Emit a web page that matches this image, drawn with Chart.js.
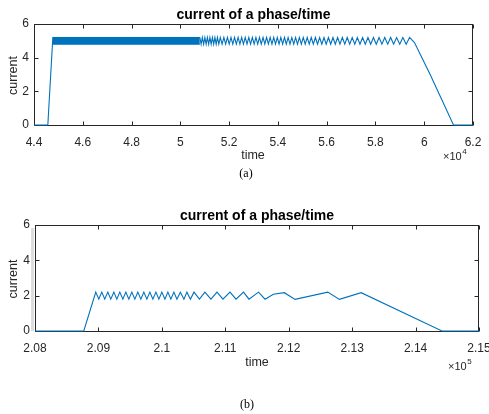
<!DOCTYPE html>
<html>
<head>
<meta charset="utf-8">
<script src="https://cdn.jsdelivr.net/npm/chart.js@4.4.0/dist/chart.umd.min.js"></script>
<style>
  html, body { margin: 0; padding: 0; background: #fff; }
  #wrap { position: relative; width: 489px; height: 414px; overflow: hidden; background: #fff; }
  #wrap canvas { position: absolute; left: 0; }
  #plotA { top: 0; }
  #plotB { top: 200px; }
</style>
</head>
<body>
<div id="wrap">
  <canvas id="plotA" width="489" height="200"></canvas>
  <canvas id="plotB" width="489" height="214"></canvas>
</div>
<script>
const yTicks = [0, 2, 4, 6];
const yLabels = ['0', '2', '4', '6'];

// (a) time axis, x10^4
const aXTicks = [44000, 46000, 48000, 50000, 52000, 54000, 56000, 58000, 60000, 62000];
const aXLabels = ['4.4', '4.6', '4.8', '5', '5.2', '5.4', '5.6', '5.8', '6', '6.2'];
const aStartT = [44000, 44567, 44772];
const aStartY = [0, 0, 5.2];
// ripple too dense to resolve here, shows as a solid band
const aBandT = [44772, 50800];
const aBandHigh = 5.2;
const aBandLow = 4.8;
const aPeak = 5.2;
const aTrough = 4.8;
const aPeakT = [50903, 51006, 51109, 51212, 51315, 51418, 51521, 51639, 51785, 51931,
  52077, 52223, 52369, 52515, 52661, 52807, 52953, 53099, 53245, 53391, 53537, 53683,
  53829, 53975, 54121, 54270, 54420, 54572, 54726, 54882, 55040, 55202, 55368, 55538,
  55712, 55890, 56072, 56258, 56448, 56643, 56843, 57048, 57258, 57473, 57693, 57918,
  58148, 58383, 58623, 58868, 59125, 59400];
const aTroughT = [50852, 50955, 51058, 51161, 51264, 51367, 51470, 51577, 51712, 51858,
  52004, 52150, 52296, 52442, 52588, 52734, 52880, 53026, 53172, 53318, 53464, 53610,
  53756, 53902, 54048, 54195, 54345, 54496, 54649, 54804, 54961, 55121, 55285, 55453,
  55625, 55801, 55981, 56165, 56353, 56545, 56743, 56945, 57153, 57365, 57583, 57805,
  58033, 58265, 58503, 58745, 58996, 59262];
const aEndT = [59600, 60243, 61200, 62000];
const aEndY = [4.9, 3.0, 0, 0];

// (b) time axis, x10^5
const bXTicks = [208000, 209000, 210000, 211000, 212000, 213000, 214000, 215000];
const bXLabels = ['2.08', '2.09', '2.1', '2.11', '2.12', '2.13', '2.14', '2.15'];
const bT = [208000, 208769, 208958, 209006, 209053, 209100, 209148, 209195, 209243, 209290,
  209337, 209385, 209432, 209479, 209527, 209574, 209621, 209669, 209716, 209764, 209811,
  209858, 209906, 209953, 210000, 210048, 210095, 210142, 210190, 210237, 210292, 210348,
  210395, 210450, 210506, 210592, 210679, 210774, 210869, 210963, 211074, 211169, 211287,
  211374, 211524, 211627, 211758, 211931, 212100, 212616, 212800, 213142, 214416, 215000];
const bY = [0, 0, 2.2, 1.8, 2.2, 1.8, 2.2, 1.8, 2.2, 1.8,
  2.2, 1.8, 2.2, 1.8, 2.2, 1.8, 2.2, 1.8, 2.2, 1.8, 2.2,
  1.8, 2.2, 1.8, 2.2, 1.8, 2.2, 1.8, 2.2, 1.8, 2.2, 1.8,
  2.2, 1.8, 2.2, 1.8, 2.2, 1.8, 2.2, 1.8, 2.2, 1.8, 2.2,
  1.8, 2.2, 1.8, 2.08, 2.17, 1.79, 2.2, 1.79, 2.17, 0, 0];

const LINE = '#0072BD';
const AXIS = '#262626';
const SANS = "'Liberation Sans', Arial, sans-serif";

function pts(ts, ys) {
  return ts.map((t, i) => ({ x: t, y: ys[i] }));
}

const aLine = [
  ...pts(aStartT, aStartY),
  { x: aBandT[1], y: aBandHigh },
  ...aPeakT.map(t => ({ x: t, y: aPeak })),
  ...aTroughT.map(t => ({ x: t, y: aTrough })),
  ...pts(aEndT, aEndY),
].sort((p, q) => p.x - q.x);

const matlabAxes = {
  id: 'matlabAxes',
  beforeDatasetsDraw(chart, args, o) {
    const { ctx, chartArea: a, scales } = chart;
    ctx.save();
    if (o.strip) {
      ctx.fillStyle = '#dedede';
      ctx.fillRect(o.strip[0], o.strip[1], o.strip[2], o.strip[3]);
    }
    ctx.strokeStyle = AXIS;
    ctx.lineWidth = 1;
    const l = Math.round(a.left) + 0.5, r = Math.round(a.right) - 0.5;
    const t = Math.round(a.top) + 0.5, b = Math.round(a.bottom) + 0.5;
    ctx.strokeRect(l, t, r - l, b - t);
    ctx.beginPath();
    scales.x.ticks.forEach(tk => {
      const x = Math.round(scales.x.getPixelForValue(tk.value)) + 0.5;
      ctx.moveTo(x, b); ctx.lineTo(x, b - 4);
      ctx.moveTo(x, t); ctx.lineTo(x, t + 4);
    });
    scales.y.ticks.forEach(tk => {
      const y = Math.round(scales.y.getPixelForValue(tk.value)) + 0.5;
      ctx.moveTo(l, y); ctx.lineTo(l + 4, y);
      ctx.moveTo(r, y); ctx.lineTo(r - 4, y);
    });
    ctx.stroke();
    ctx.restore();
  },
  afterDraw(chart, args, o) {
    const { ctx, chartArea: a } = chart;
    const cx = (a.left + a.right) / 2;
    ctx.save();
    ctx.fillStyle = '#000';
    ctx.textAlign = 'center';
    ctx.textBaseline = 'middle';
    ctx.font = 'bold 14px ' + SANS;
    ctx.fillText(o.title, cx, o.titleY);
    ctx.fillStyle = AXIS;
    ctx.font = '12.5px ' + SANS;
    ctx.fillText('time', o.xLabelX, o.xLabelY);
    ctx.save();
    ctx.translate(14, (a.top + a.bottom) / 2 + 1);
    ctx.rotate(-Math.PI / 2);
    ctx.fillText('current', 0, 0);
    ctx.restore();
    ctx.textAlign = 'left';
    ctx.font = '11px ' + SANS;
    ctx.fillText('\u00d710', o.expX, o.expY);
    const w = ctx.measureText('\u00d710').width;
    ctx.font = '8px ' + SANS;
    ctx.fillText(o.exp, o.expX + w + 0.5, o.expY - 5);
    ctx.fillStyle = '#000';
    ctx.textAlign = 'center';
    ctx.font = '12px "Liberation Serif", "Times New Roman", serif';
    ctx.fillText(o.caption, o.captionX, o.captionY);
    ctx.restore();
  }
};

function makePlot(id, p) {
  const clip = { left: 2, right: 2, top: 2, bottom: 2 };
  const datasets = [];
  if (p.band) {
    datasets.push({
      data: p.band.map(b => ({ x: b.x, y: b.lo })),
      borderColor: LINE, borderWidth: 1, pointRadius: 0, fill: false, clip,
    });
    datasets.push({
      data: p.band.map(b => ({ x: b.x, y: b.hi })),
      borderColor: LINE, borderWidth: 1, pointRadius: 0,
      fill: '-1', backgroundColor: LINE, clip,
    });
  }
  datasets.push({
    data: p.line, borderColor: LINE, borderWidth: 1.1, pointRadius: 0, fill: false, clip,
  });

  return new Chart(document.getElementById(id), {
    type: 'line',
    data: { datasets },
    options: {
      responsive: false,
      animation: false,
      layout: { padding: { left: 0, right: 489 - p.area.right, top: p.area.top, bottom: 0 } },
      elements: { line: { tension: 0 }, point: { radius: 0 } },
      plugins: {
        legend: { display: false },
        tooltip: { enabled: false },
        title: { display: false },
        matlabAxes: p.text,
      },
      scales: {
        x: {
          type: 'linear',
          min: p.xTicks[0],
          max: p.xTicks[p.xTicks.length - 1],
          afterBuildTicks: s => { s.ticks = p.xTicks.map(v => ({ value: v })); },
          afterFit: s => { s.height = p.height - p.area.bottom; s.paddingLeft = 0; s.paddingRight = 0; },
          grid: { display: false, drawTicks: false },
          border: { display: false },
          ticks: {
            autoSkip: false, maxRotation: 0, padding: 10,
            color: AXIS, font: { family: SANS, size: 12 },
            callback: (v, i) => p.xLabels[i],
          },
        },
        y: {
          min: 0,
          max: 6,
          afterBuildTicks: s => { s.ticks = yTicks.map(v => ({ value: v })); },
          afterFit: s => { s.width = p.area.left; s.paddingTop = 0; s.paddingBottom = 0; },
          grid: { display: false, drawTicks: false },
          border: { display: false },
          ticks: {
            padding: 5, color: AXIS, font: { family: SANS, size: 12 },
            callback: (v, i) => yLabels[i],
          },
        },
      },
    },
    plugins: [matlabAxes],
  });
}

makePlot('plotA', {
  height: 200,
  area: { left: 34, right: 473, top: 24, bottom: 125 },
  xTicks: aXTicks,
  xLabels: aXLabels,
  line: aLine,
  band: aBandT.map(t => ({ x: t, lo: aBandLow, hi: aBandHigh })),
  text: {
    title: 'current of a phase/time', titleY: 15,
    xLabelX: 253, xLabelY: 156,
    exp: '4', expX: 443, expY: 157,
    caption: '(a)', captionX: 246, captionY: 174,
  },
});

makePlot('plotB', {
  height: 214,
  area: { left: 35, right: 479, top: 25, bottom: 131 },
  xTicks: bXTicks,
  xLabels: bXLabels,
  line: pts(bT, bY),
  text: {
    title: 'current of a phase/time', titleY: 16,
    xLabelX: 257, xLabelY: 163,
    exp: '5', expX: 448, expY: 167,
    caption: '(b)', captionX: 247, captionY: 205,
    strip: [31, 28, 3, 103],
  },
});
</script>
</body>
</html>
